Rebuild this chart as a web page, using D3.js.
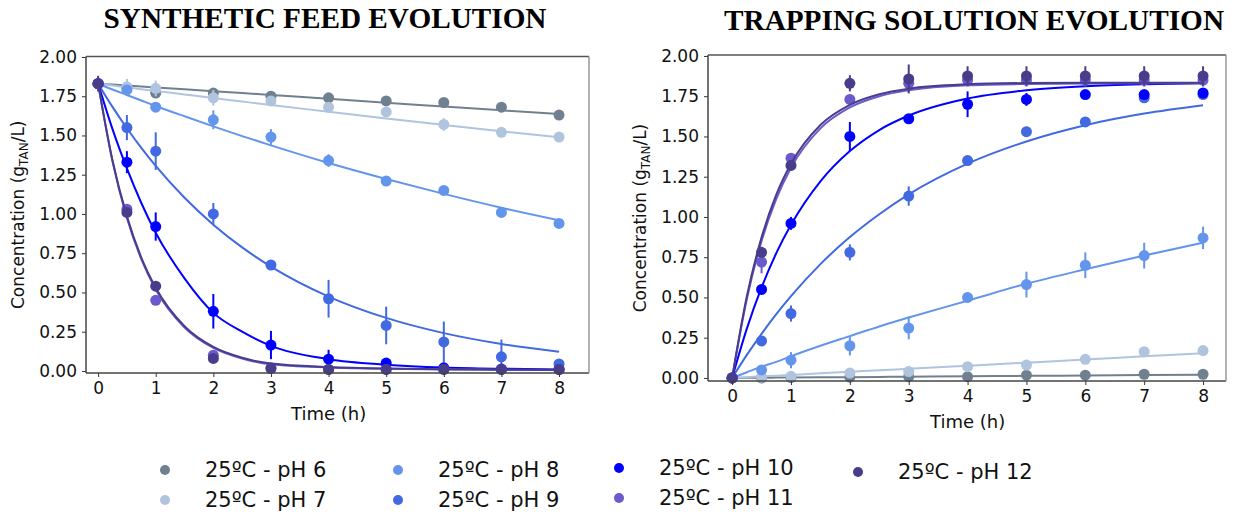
<!DOCTYPE html>
<html>
<head>
<meta charset="utf-8">
<script src="https://cdn.jsdelivr.net/npm/d3@7"></script>
<style>
  body { margin: 0; background: #fff; }
  svg { display: block; }
</style>
</head>
<body>
<div id="chart"></div>
<script>
// sample times (h) and fitted-curve sample times
const times = [0, 0.5, 1, 2, 3, 4, 5, 6, 7, 8];
const fitTimes = [0, 0.25, 0.5, 0.75, 1, 1.5, 2, 2.5, 3, 4, 5, 6, 7, 8];
const xTicks = [0, 1, 2, 3, 4, 5, 6, 7, 8];
const yTicks = [0, 0.25, 0.5, 0.75, 1, 1.25, 1.5, 1.75, 2];

const seriesNames = ["25ºC - pH 6", "25ºC - pH 7", "25ºC - pH 8", "25ºC - pH 9",
  "25ºC - pH 10", "25ºC - pH 11", "25ºC - pH 12"];
const seriesColors = ["#708090", "#b0c4de", "#6495ed", "#4169e1", "#0000ff", "#6a5acd", "#483d8b"];

// SYNTHETIC FEED: measured values, std dev, fitted curve
const feedValues = [
  [1.83, 1.80, 1.77, 1.77, 1.75, 1.74, 1.72, 1.71, 1.68, 1.63],
  [1.83, 1.81, 1.80, 1.74, 1.72, 1.68, 1.65, 1.57, 1.52, 1.49],
  [1.83, 1.79, 1.68, 1.60, 1.49, 1.34, 1.21, 1.15, 1.01, 0.94],
  [1.83, 1.55, 1.40, 1.00, 0.675, 0.46, 0.29, 0.185, 0.09, 0.045],
  [1.83, 1.33, 0.92, 0.38, 0.165, 0.075, 0.05, 0.02, 0.012, 0.01],
  [1.83, 1.03, 0.45, 0.10, 0.02, 0.01, 0.01, 0.01, 0.01, 0.01],
  [1.83, 1.01, 0.54, 0.08, 0.015, 0.01, 0.01, 0.01, 0.01, 0.01]
];
const feedErrors = [
  [0.01, 0.01, 0.01, 0.01, 0.01, 0.01, 0.01, 0.01, 0.01, 0.01],
  [0.01, 0.05, 0.05, 0.05, 0.02, 0.03, 0.02, 0.04, 0.02, 0.01],
  [0.01, 0.02, 0.02, 0.06, 0.05, 0.04, 0.03, 0.02, 0.02, 0.02],
  [0.01, 0.08, 0.12, 0.07, 0.02, 0.12, 0.12, 0.13, 0.11, 0.03],
  [0.01, 0.07, 0.09, 0.11, 0.09, 0.06, 0.03, 0.01, 0.01, 0.01],
  [0.01, 0.02, 0.02, 0.02, 0.01, 0.01, 0.01, 0.01, 0.01, 0.01],
  [0.05, 0.03, 0.02, 0.02, 0.01, 0.01, 0.01, 0.01, 0.01, 0.01]
];
const feedFit = [
  [1.83, 1.824, 1.818, 1.812, 1.806, 1.794, 1.782, 1.770, 1.758, 1.734, 1.708, 1.684, 1.660, 1.636],
  [1.83, 1.818, 1.807, 1.795, 1.784, 1.761, 1.738, 1.716, 1.694, 1.651, 1.608, 1.567, 1.527, 1.488],
  [1.83, 1.793, 1.758, 1.723, 1.688, 1.622, 1.558, 1.496, 1.437, 1.325, 1.223, 1.128, 1.040, 0.960],
  [1.83, 1.682, 1.546, 1.421, 1.306, 1.103, 0.932, 0.787, 0.665, 0.474, 0.338, 0.241, 0.172, 0.123],
  [1.83, 1.54, 1.29, 1.07, 0.88, 0.59, 0.37, 0.25, 0.16, 0.075, 0.04, 0.022, 0.014, 0.01],
  [1.83, 1.335, 0.975, 0.712, 0.519, 0.277, 0.147, 0.079, 0.042, 0.022, 0.014, 0.01, 0.008, 0.006],
  [1.83, 1.34, 0.985, 0.722, 0.53, 0.285, 0.153, 0.084, 0.047, 0.025, 0.015, 0.011, 0.008, 0.006]
];

// TRAPPING SOLUTION: measured values, std dev, fitted curve
const trapValues = [
  [0, 0, 0.002, 0.005, 0.008, 0.008, 0.017, 0.017, 0.023, 0.023],
  [0, 0.005, 0.01, 0.03, 0.04, 0.07, 0.08, 0.116, 0.163, 0.17],
  [0, 0.05, 0.11, 0.20, 0.31, 0.50, 0.58, 0.70, 0.76, 0.87],
  [0, 0.23, 0.40, 0.78, 1.13, 1.35, 1.53, 1.59, 1.74, 1.76],
  [0, 0.55, 0.96, 1.50, 1.61, 1.70, 1.73, 1.76, 1.76, 1.77],
  [0, 0.72, 1.365, 1.73, 1.83, 1.85, 1.85, 1.85, 1.85, 1.85],
  [0, 0.78, 1.32, 1.83, 1.857, 1.876, 1.876, 1.876, 1.876, 1.876]
];
const trapErrors = [
  [0, 0.005, 0.005, 0.005, 0.005, 0.005, 0.005, 0.005, 0.005, 0.005],
  [0, 0.01, 0.01, 0.01, 0.01, 0.01, 0.01, 0.01, 0.01, 0.01],
  [0, 0.01, 0.05, 0.06, 0.07, 0.03, 0.08, 0.08, 0.08, 0.07],
  [0, 0.02, 0.05, 0.05, 0.06, 0.02, 0.03, 0.01, 0.01, 0.01],
  [0, 0.03, 0.04, 0.09, 0.02, 0.08, 0.04, 0.02, 0.02, 0.02],
  [0, 0.07, 0.03, 0.03, 0.05, 0.04, 0.04, 0.04, 0.04, 0.04],
  [0, 0.02, 0.02, 0.05, 0.09, 0.06, 0.06, 0.06, 0.06, 0.06]
];
const trapFit = [
  [0, 0.001, 0.001, 0.002, 0.003, 0.004, 0.005, 0.006, 0.008, 0.010, 0.013, 0.015, 0.018, 0.020],
  [0, 0.005, 0.010, 0.014, 0.019, 0.029, 0.038, 0.048, 0.057, 0.076, 0.095, 0.114, 0.134, 0.153],
  [0, 0.035, 0.07, 0.10, 0.135, 0.20, 0.26, 0.32, 0.375, 0.48, 0.585, 0.675, 0.76, 0.84],
  [0, 0.143, 0.274, 0.396, 0.508, 0.707, 0.875, 1.017, 1.140, 1.331, 1.469, 1.570, 1.642, 1.694],
  [0, 0.306, 0.562, 0.775, 0.951, 1.221, 1.409, 1.540, 1.630, 1.736, 1.787, 1.812, 1.824, 1.830],
  [0, 0.49, 0.851, 1.113, 1.306, 1.550, 1.680, 1.750, 1.787, 1.818, 1.826, 1.829, 1.830, 1.830],
  [0, 0.507, 0.873, 1.138, 1.330, 1.571, 1.696, 1.762, 1.797, 1.824, 1.832, 1.834, 1.834, 1.834]
];

const svg = d3.select("#chart").append("svg")
  .attr("width", 1235)
  .attr("height", 515)
  .style("font-family", "'DejaVu Sans', sans-serif");

function drawPanel(opts) {
  const { left, right, top, bottom, xDomain, yDomain, values, errors, fit, title, titleX, titleY, titleLen } = opts;

  const x = d3.scaleLinear().domain(xDomain).range([left, right]);
  const y = d3.scaleLinear().domain(yDomain).range([bottom, top]);

  const g = svg.append("g");

  // title
  svg.append("text")
    .attr("x", titleX)
    .attr("y", titleY)
    .attr("text-anchor", "middle")
    .attr("textLength", titleLen)
    .attr("lengthAdjust", "spacingAndGlyphs")
    .style("font-family", "'Liberation Serif', 'Times New Roman', serif")
    .style("font-weight", "bold")
    .style("font-size", "29px")
    .text(title);

  // fitted curves + points, pH 6 first so pH 12 sits on top
  const line = d3.line()
    .x((d, i) => x(fitTimes[i]))
    .y(d => y(d))
    .curve(d3.curveMonotoneX);

  seriesNames.forEach((name, s) => {
    const col = seriesColors[s];
    g.append("path")
      .datum(fit[s])
      .attr("d", line)
      .attr("fill", "none")
      .attr("stroke", col)
      .attr("stroke-width", 2);

    const pts = times.map((t, i) => ({ t, v: values[s][i], e: errors[s][i] }));

    g.append("g").selectAll("line")
      .data(pts.filter(d => d.e > 0.015))
      .join("line")
      .attr("x1", d => x(d.t))
      .attr("x2", d => x(d.t))
      .attr("y1", d => y(d.v - d.e))
      .attr("y2", d => y(d.v + d.e))
      .attr("stroke", col)
      .attr("stroke-width", 2);

    g.append("g").selectAll("circle")
      .data(pts)
      .join("circle")
      .attr("cx", d => x(d.t))
      .attr("cy", d => y(d.v))
      .attr("r", 5.5)
      .attr("fill", col);
  });

  // axes
  const xAxis = svg.append("g")
    .attr("transform", `translate(0,${bottom})`)
    .call(d3.axisBottom(x).tickValues(xTicks).tickSize(4).tickPadding(5).tickFormat(d3.format("d")));
  const yAxis = svg.append("g")
    .attr("transform", `translate(${left},0)`)
    .call(d3.axisLeft(y).tickValues(yTicks).tickSize(4).tickPadding(5).tickFormat(d3.format(".2f")));
  [xAxis, yAxis].forEach(a => {
    a.select(".domain").remove();
    a.selectAll("line").attr("stroke", "#333");
    a.selectAll("text")
      .style("font-family", "'DejaVu Sans', sans-serif")
      .style("font-size", "17px")
      .attr("fill", "#111");
  });

  // frame
  svg.append("line").attr("x1", left).attr("x2", left).attr("y1", top).attr("y2", bottom)
    .attr("stroke", "#444").attr("stroke-width", 1.5);
  svg.append("line").attr("x1", left).attr("x2", right).attr("y1", bottom).attr("y2", bottom)
    .attr("stroke", "#444").attr("stroke-width", 1.5);
  svg.append("line").attr("x1", left).attr("x2", right).attr("y1", top).attr("y2", top)
    .attr("stroke", "#555").attr("stroke-width", 1.5);
  svg.append("line").attr("x1", right).attr("x2", right).attr("y1", top).attr("y2", bottom)
    .attr("stroke", "#999").attr("stroke-width", 1.5);

  // axis labels
  svg.append("text")
    .attr("x", x(4))
    .attr("y", bottom + 47)
    .attr("text-anchor", "middle")
    .style("font-size", "18px")
    .attr("fill", "#111")
    .text("Time (h)");

  const yl = svg.append("text")
    .attr("transform", `translate(${left - 62},${(top + bottom) / 2}) rotate(-90)`)
    .attr("text-anchor", "middle")
    .style("font-size", "17px")
    .attr("fill", "#111");
  yl.append("tspan").text("Concentration (g");
  yl.append("tspan").attr("dy", 4).style("font-size", "12px").text("TAN");
  yl.append("tspan").attr("dy", -4).text("/L)");
}

drawPanel({
  left: 86, right: 589, top: 56.5, bottom: 373,
  xDomain: [-0.21, 8.52], yDomain: [-0.013, 2.003],
  values: feedValues, errors: feedErrors, fit: feedFit,
  title: "SYNTHETIC FEED EVOLUTION", titleX: 325, titleY: 28, titleLen: 443
});

drawPanel({
  left: 708, right: 1226, top: 55, bottom: 381,
  xDomain: [-0.41, 8.39], yDomain: [-0.019, 2.006],
  values: trapValues, errors: trapErrors, fit: trapFit,
  title: "TRAPPING SOLUTION EVOLUTION", titleX: 974, titleY: 30, titleLen: 500
});

// legend: three columns of two rows, then pH 12 alone
const legendPos = [
  [165, 470], [165, 500], [398, 470], [398, 500], [619, 468], [619, 498], [858, 472]
];
const legend = svg.append("g");
seriesNames.forEach((name, i) => {
  const [lx, ly] = legendPos[i];
  legend.append("circle")
    .attr("cx", lx).attr("cy", ly).attr("r", 5)
    .attr("fill", seriesColors[i]);
  legend.append("text")
    .attr("x", lx + 40)
    .attr("y", ly)
    .attr("dy", "0.35em")
    .style("font-size", "21px")
    .attr("fill", "#111")
    .text(name);
});
</script>
</body>
</html>
